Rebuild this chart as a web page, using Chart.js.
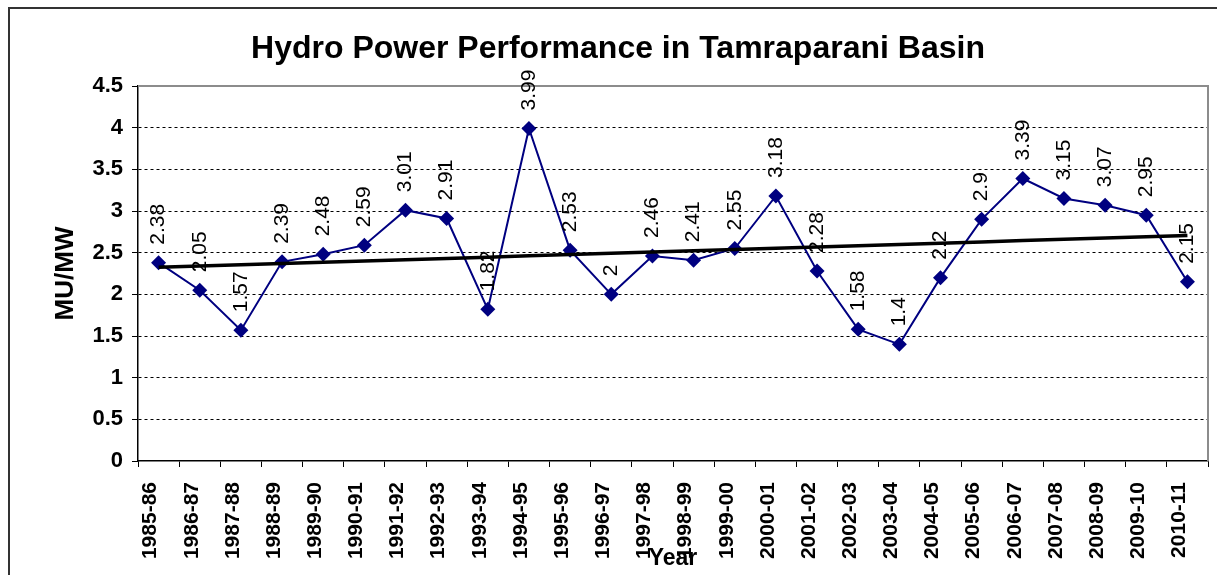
<!DOCTYPE html>
<html>
<head>
<meta charset="utf-8">
<script src="https://cdn.jsdelivr.net/npm/chart.js@4.4.1/dist/chart.umd.min.js"></script>
<style>
  html, body { margin: 0; padding: 0; background: #fff; }
  #wrap { width: 1217px; height: 575px; }
</style>
</head>
<body>
<div id="wrap"><canvas id="chart" width="1217" height="575"></canvas></div>
<script>
const YEARS = ['1985-86','1986-87','1987-88','1988-89','1989-90','1990-91','1991-92','1992-93','1993-94',
  '1994-95','1995-96','1996-97','1997-98','1998-99','1999-00','2000-01','2001-02','2002-03','2003-04',
  '2004-05','2005-06','2006-07','2007-08','2008-09','2009-10','2010-11'];
const MU_MW = [2.38,2.05,1.57,2.39,2.48,2.59,3.01,2.91,1.82,3.99,2.53,2,2.46,2.41,2.55,3.18,2.28,1.58,1.4,
  2.2,2.9,3.39,3.15,3.07,2.95,2.15];
const Y_MIN = 0, Y_MAX = 4.5, Y_STEP = 0.5;

const FONT = 'Arial, "Liberation Sans", sans-serif';
const NAVY = '#000080';

// linear trend (least squares over category index), like Excel's trendline
function trend(vals) {
  const n = vals.length;
  const mx = (n - 1) / 2;
  const my = vals.reduce((a, v) => a + v, 0) / n;
  let sxy = 0, sxx = 0;
  vals.forEach((v, i) => { sxy += (i - mx) * (v - my); sxx += (i - mx) * (i - mx); });
  const b = sxy / sxx;
  return vals.map((_, i) => my + b * (i - mx));
}

const frame = {
  id: 'frame',
  beforeDraw(chart) {
    const ctx = chart.ctx;
    ctx.save();
    ctx.fillStyle = '#fff';
    ctx.fillRect(0, 0, chart.width, chart.height);
    ctx.strokeStyle = '#333';
    ctx.lineWidth = 2;
    ctx.beginPath();
    ctx.moveTo(9, chart.height + 5);
    ctx.lineTo(9, 8);
    ctx.lineTo(chart.width + 5, 8);
    ctx.stroke();
    ctx.fillStyle = '#000';
    ctx.font = 'bold 32px ' + FONT;
    ctx.textAlign = 'center';
    ctx.textBaseline = 'middle';
    ctx.fillText('Hydro Power Performance in Tamraparani Basin', 618, 49);
    ctx.restore();
  },
  beforeDatasetsDraw(chart) {
    const { ctx, chartArea: a } = chart;
    ctx.save();
    ctx.strokeStyle = '#8c8c8c';
    ctx.lineWidth = 2;
    ctx.beginPath();
    ctx.moveTo(a.left, a.top);
    ctx.lineTo(a.right, a.top);
    ctx.lineTo(a.right, a.bottom);
    ctx.stroke();
    ctx.restore();
  },
};

const valueLabels = {
  id: 'valueLabels',
  afterDatasetsDraw(chart) {
    const ctx = chart.ctx;
    const meta = chart.getDatasetMeta(1);
    ctx.save();
    ctx.fillStyle = '#000';
    ctx.font = '21px ' + FONT;
    ctx.textAlign = 'left';
    ctx.textBaseline = 'middle';
    meta.data.forEach((pt, i) => {
      ctx.save();
      ctx.translate(pt.x, pt.y - 18);
      ctx.rotate(-Math.PI / 2);
      ctx.fillText(String(MU_MW[i]), 0, 0);
      ctx.restore();
    });
    ctx.restore();
  },
};

new Chart(document.getElementById('chart'), {
  type: 'line',
  data: {
    labels: YEARS,
    datasets: [
      {
        label: 'Trend',
        data: trend(MU_MW),
        borderColor: '#000',
        borderWidth: 3.5,
        pointRadius: 0,
        tension: 0,
        order: 0,
      },
      {
        label: 'MU/MW',
        data: MU_MW,
        borderColor: NAVY,
        backgroundColor: NAVY,
        borderWidth: 2,
        pointStyle: 'rectRot',
        pointRadius: 7.5,
        pointBorderWidth: 0,
        tension: 0,
        order: 1,
      },
    ],
  },
  options: {
    responsive: false,
    animation: false,
    events: [],
    layout: { padding: { top: 86, right: 9, left: 0, bottom: 0 } },
    plugins: { legend: { display: false }, tooltip: { enabled: false }, title: { display: false } },
    scales: {
      x: {
        offset: true,
        afterFit: s => { s.height = 114; s.paddingLeft = 0; s.paddingRight = 0; },
        grid: { offset: true, drawOnChartArea: false, tickLength: 6, tickColor: '#000', tickWidth: 1 },
        border: { color: '#000', width: 1.5 },
        ticks: {
          autoSkip: false, maxRotation: 90, minRotation: 90, padding: 15, labelOffset: -8,
          color: '#000', font: { family: FONT, size: 21, weight: 'bold' },
        },
        title: {
          display: true, text: 'Year', color: '#000',
          font: { family: FONT, size: 23, weight: 'bold' },
          padding: { top: 0, bottom: 3 },
        },
      },
      y: {
        min: Y_MIN, max: Y_MAX,
        afterFit: s => { s.width = 138; s.paddingTop = 0; s.paddingBottom = 0; },
        grid: {
          color: c => (c.tick && (c.tick.value === Y_MAX || c.tick.value === Y_MIN)) ? 'rgba(0,0,0,0)' : '#000',
          lineWidth: 1, tickLength: 6, tickColor: '#000', tickBorderDash: [],
        },
        border: { color: '#000', width: 1.5, dash: [3, 3] },
        ticks: {
          stepSize: Y_STEP, padding: 9,
          callback: v => String(Number(v)),
          color: '#000', font: { family: FONT, size: 22, weight: 'bold' },
        },
        title: {
          display: true, text: 'MU/MW', color: '#000',
          font: { family: FONT, size: 26, weight: 'bold' },
          padding: { top: 50, bottom: 0 },
        },
      },
    },
  },
  plugins: [frame, valueLabels],
});
</script>
</body>
</html>
